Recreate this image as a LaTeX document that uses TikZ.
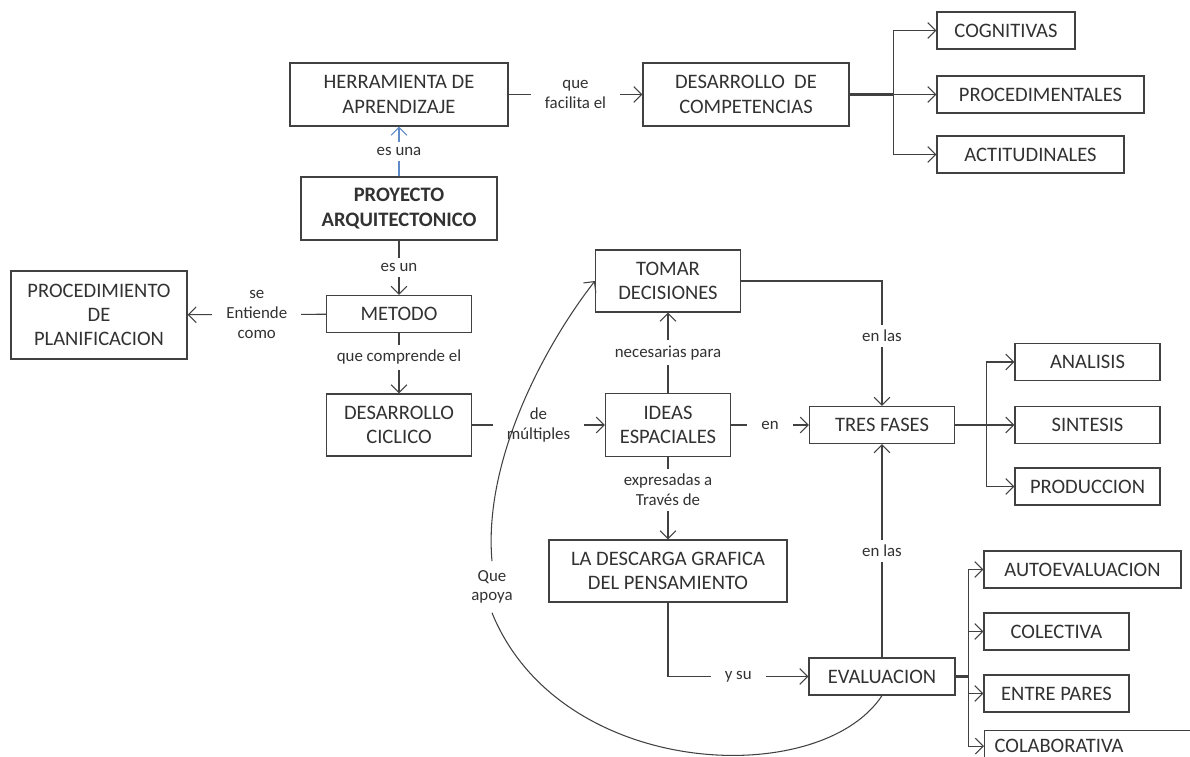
\documentclass[tikz,border=0pt]{standalone}
\usepackage{fontspec}
\setmainfont{Carlito}
\usepackage{tikz}
\usetikzlibrary{arrows.meta,positioning}
\definecolor{inkgray}{RGB}{50,50,50}
\definecolor{linegray}{RGB}{65,65,65}
\definecolor{tipblue}{RGB}{95,140,200}

\begin{document}
\begin{tikzpicture}[
    x=0.02cm, y=-0.02cm,
    box/.style={rectangle, draw=linegray, line width=0.7pt, fill=white, inner sep=0pt,
                minimum height=0.74cm, align=center, text=inkgray,
                font=\fontsize{11.7}{13.8}\selectfont},
    lbl/.style={fill=white, inner xsep=8pt, inner ysep=3pt, align=center, text=inkgray,
                font=\fontsize{9.6}{11.2}\selectfont},
    arr/.style={-{Straight Barb[length=4.5pt,width=9pt]}, line width=0.6pt, linegray},
    thk/.style={line width=1.4pt, linegray}
]
\useasboundingbox (0,0) rectangle (1190,757);
\clip (0,0) rectangle (1190,757);
\fill[white] (0,0) rectangle (1190,757);

\node[box, minimum width=4.36cm, minimum height=1.26cm] (herr)  at (399,94.5)   {HERRAMIENTA DE\\APRENDIZAJE};
\node[box, minimum width=3.92cm, minimum height=1.26cm,
      font=\fontsize{11.7}{13.8}\selectfont\bfseries]   (proy)  at (399,208.5)  {PROYECTO\\ARQUITECTONICO};
\node[box, minimum width=4.12cm, minimum height=1.26cm] (comp)  at (746,94.5)   {DESARROLLO\ \ DE\\COMPETENCIAS};
\node[box, minimum width=2.76cm]                        (cogn)  at (1006,30.5)  {COGNITIVAS};
\node[box, minimum width=4.14cm]                        (proc)  at (1040.5,94.5){PROCEDIMENTALES};
\node[box, minimum width=3.74cm]                        (acti)  at (1030.5,154.5){ACTITUDINALES};
\node[box, minimum width=3.52cm, minimum height=1.76cm] (plan)  at (99,315)     {PROCEDIMIENTO\\DE\\PLANIFICACION};
\node[box, minimum width=2.9cm]                         (meto)  at (399,314)    {METODO};
\node[box, minimum width=2.9cm, minimum height=1.24cm]  (cicl)  at (399,425)    {DESARROLLO\\CICLICO};
\node[box, minimum width=2.9cm, minimum height=1.24cm]  (tomar) at (668,281)    {TOMAR\\DECISIONES};
\node[box, minimum width=2.5cm, minimum height=1.26cm]  (ideas) at (668,425)    {IDEAS\\ESPACIALES};
\node[box, minimum width=2.9cm]                         (fases) at (882,425)    {TRES FASES};
\node[box, minimum width=2.9cm]                         (anal)  at (1087.5,362) {ANALISIS};
\node[box, minimum width=2.9cm]                         (sint)  at (1087.5,425) {SINTESIS};
\node[box, minimum width=2.9cm]                         (prod)  at (1087.5,486.5){PRODUCCION};
\node[box, minimum width=4.76cm, minimum height=1.24cm] (desc)  at (668,571)    {LA DESCARGA GRAFICA\\DEL PENSAMIENTO};
\node[box, minimum width=2.92cm]                        (eval)  at (882,676.5)  {EVALUACION};
\node[box, minimum width=3.94cm]                        (auto)  at (1082.5,569.5){AUTOEVALUACION};
\node[box, minimum width=2.9cm]                         (cole)  at (1056.5,631.5){COLECTIVA};
\node[box, minimum width=2.9cm]                         (pares) at (1056.5,693.5){ENTRE PARES};
\node[box, anchor=north west, minimum width=6cm, minimum height=0.62cm,
      text width=5.6cm, align=left, inner xsep=0.2cm]  (cola)  at (984,730)    {COLABORATIVA};

\draw[arr, tipblue] (proy) -- node[lbl] (l1) {es una} (herr);
\draw[arr] (herr) -- node[lbl] (l2) {que\\facilita el} (comp);
\draw[arr] (proy) -- node[lbl] (l3) {es un} (meto);
\draw[arr] (meto) -- node[lbl] (l4) {se\\Entiende\\como} (plan);
\draw[arr] (meto) -- node[lbl, pos=0.4] (l5) {que comprende el} (cicl);
\draw[arr] (cicl) -- node[lbl] (l6) {de\\múltiples} (ideas);
\draw[arr] (ideas) -- node[lbl] (l7) {necesarias para} (tomar);
\draw[arr] (ideas) -- node[lbl] (l8) {en} (fases);
\draw[arr] (tomar) -| node[lbl, pos=0.72] (l9) {en las} (fases);
\draw[arr] (ideas) -- node[lbl, pos=0.4] (l10) {expresadas a\\Través de} (desc);
\draw[arr] (desc) |- node[lbl, pos=0.75] (l11) {y su} (eval);
\draw[arr] (eval) -- node[lbl] (l12) {en las} (fases);

\node[lbl, inner ysep=5pt] (l13) at (492,587) {Que\\apoya};
\draw[linegray, line width=0.6pt] (eval.south) .. controls (820,790) and (560,780) .. (l13.south);
\draw[arr] (l13.north) .. controls (483,460) and (545,345) .. (tomar.west);

\draw[thk] (comp.east) -- ++(44,0) coordinate (c1);
\draw[arr] (c1) |- (cogn.west);
\draw[arr] (c1) -- (proc.west);
\draw[arr] (c1) |- (acti.west);

\draw[thk] (fases.east) -- ++(31,0) coordinate (f1);
\draw[arr] (f1) |- (anal.west);
\draw[arr] (f1) -- (sint.west);
\draw[arr] (f1) |- (prod.west);

\draw[thk] (eval.east) -- ++(13,0) coordinate (e1);
\draw[arr] (e1) |- (auto.west);
\draw[arr] (e1) |- (cole.west);
\draw[arr] (e1) |- (pares.west);
\draw[arr] (e1) |- (cola.west);
\end{tikzpicture}
\end{document}
